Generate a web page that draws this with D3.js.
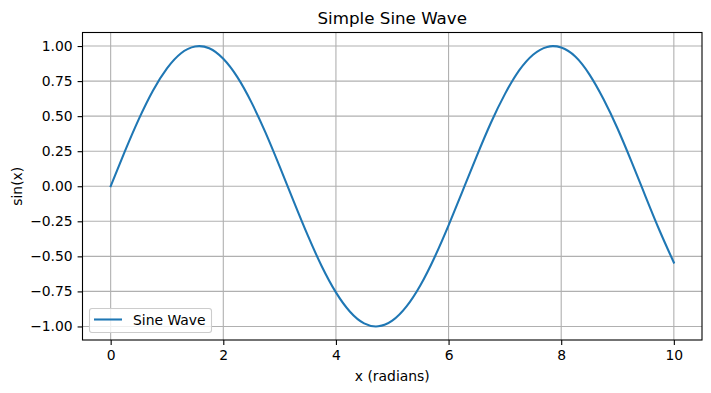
<!DOCTYPE html>
<meta charset="utf-8">
<script src="https://d3js.org/d3.v7.min.js"></script>
<body style="margin:0;background:white">
<svg width="711" height="393"></svg>
<script>
// values, x step 0.25 from 0 to 10
var xs = d3.range(0, 41).map(function (i) { return i * 0.25; });
var ys = [0.000, 0.247, 0.479, 0.682, 0.841, 0.949, 0.997, 0.984, 0.909, 0.778,
          0.598, 0.382, 0.141, -0.108, -0.351, -0.572, -0.757, -0.895, -0.978, -0.999,
          -0.959, -0.859, -0.706, -0.508, -0.279, -0.033, 0.215, 0.451, 0.657, 0.824,
          0.938, 0.994, 0.989, 0.925, 0.798, 0.622, 0.412, 0.174, -0.075, -0.319, -0.544];
var xTicks = [0, 2, 4, 6, 8, 10];
var yTicks = [-1.00, -0.75, -0.50, -0.25, 0.00, 0.25, 0.50, 0.75, 1.00];
var seriesName = "Sine Wave";

var pLeft = 82.5, pRight = 702, pTop = 32.5, pBottom = 340;
var font = "DejaVu Sans, sans-serif";

var svg = d3.select("svg");
var x = d3.scaleLinear().domain([-0.5, 10.5]).range([pLeft, pRight]);
var y = d3.scaleLinear().domain([-1.0966, 1.0966]).range([pBottom, pTop]);

// grid
svg.append("g").selectAll("line").data(xTicks).enter().append("line")
    .attr("x1", function (d) { return x(d); }).attr("x2", function (d) { return x(d); })
    .attr("y1", pTop).attr("y2", pBottom)
    .attr("stroke", "#b0b0b0").attr("stroke-width", 1.1);
svg.append("g").selectAll("line").data(yTicks).enter().append("line")
    .attr("y1", function (d) { return y(d); }).attr("y2", function (d) { return y(d); })
    .attr("x1", pLeft).attr("x2", pRight)
    .attr("stroke", "#b0b0b0").attr("stroke-width", 1.1);

// line
var pts = xs.map(function (d, i) { return [d, ys[i]]; });
svg.append("path").datum(pts)
    .attr("fill", "none").attr("stroke", "#1f77b4").attr("stroke-width", 2.08)
    .attr("stroke-linecap", "square")
    .attr("d", d3.line().x(function (d) { return x(d[0]); }).y(function (d) { return y(d[1]); })
        .curve(d3.curveNatural));

// axes
var fmt = function (d) { return d3.format(".2f")(d).replace("-", "\u2212"); };
var xAxis = svg.append("g").attr("transform", "translate(0," + pBottom + ")")
    .call(d3.axisBottom(x).tickValues(xTicks).tickSize(4.9).tickPadding(4.9).tickFormat(d3.format("d")));
var yAxis = svg.append("g").attr("transform", "translate(" + pLeft + ",0)")
    .call(d3.axisLeft(y).tickValues(yTicks).tickSize(4.9).tickPadding(4.9).tickFormat(fmt));
[xAxis, yAxis].forEach(function (g) {
    g.select(".domain").remove();
    g.selectAll(".tick line").attr("stroke", "#000").attr("stroke-width", 1.1);
    g.selectAll("text").attr("font-family", font).attr("font-size", "13.9px").attr("fill", "#000");
});

svg.append("rect").attr("x", pLeft).attr("y", pTop)
    .attr("width", pRight - pLeft).attr("height", pBottom - pTop)
    .attr("fill", "none").attr("stroke", "#000").attr("stroke-width", 1.1);

// labels
svg.append("text").attr("x", (pLeft + pRight) / 2).attr("y", 24).attr("text-anchor", "middle")
    .attr("font-family", font).attr("font-size", "16.7px").text("Simple Sine Wave");
svg.append("text").attr("x", (pLeft + pRight) / 2).attr("y", 381).attr("text-anchor", "middle")
    .attr("font-family", font).attr("font-size", "13.9px").text("x (radians)");
svg.append("text").attr("transform", "translate(22," + ((pTop + pBottom) / 2) + ") rotate(-90)")
    .attr("text-anchor", "middle")
    .attr("font-family", font).attr("font-size", "13.9px").text("sin(x)");

// legend
var lg = svg.append("g");
lg.append("rect").attr("x", 89.5).attr("y", 308.5).attr("width", 122).attr("height", 24)
    .attr("rx", 2.5).attr("fill", "white").attr("fill-opacity", 0.8)
    .attr("stroke", "#cccccc").attr("stroke-width", 1.1);
lg.append("line").attr("x1", 94).attr("x2", 122).attr("y1", 319.5).attr("y2", 319.5)
    .attr("stroke", "#1f77b4").attr("stroke-width", 2.08);
lg.append("text").attr("x", 133).attr("y", 324.5)
    .attr("font-family", font).attr("font-size", "13.9px").text(seriesName);
</script>
</body>
